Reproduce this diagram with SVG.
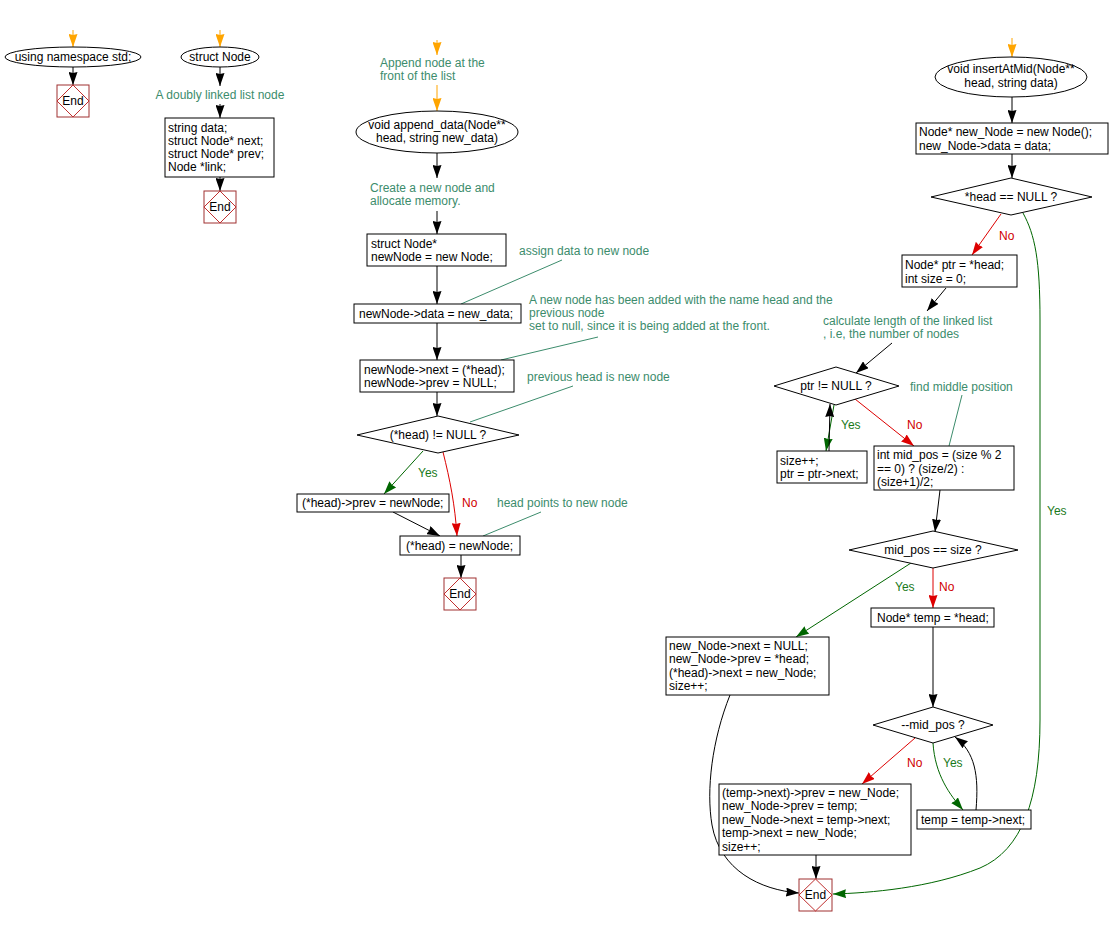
<svg xmlns="http://www.w3.org/2000/svg" width="1110" height="926" viewBox="0 0 1110 926">
<style>
text{font-family:"Liberation Sans",Arial,sans-serif;font-size:12px;fill:#000}
.c{fill:#3c8c6c}
.m{text-anchor:middle}
.y{fill:#1a7a1a}
.n{fill:#d00000}
.box{fill:#fff;stroke:#000;stroke-width:1}
.end{fill:#fff;stroke:#a03030;stroke-width:1}
.endd{fill:none;stroke:#c03030;stroke-width:1}
.k{fill:none;stroke:#000;stroke-width:1}
.o{fill:none;stroke:#ffa500;stroke-width:1}
.g{fill:none;stroke:#006600;stroke-width:1}
.r{fill:none;stroke:#dd0000;stroke-width:1}
.l{fill:none;stroke:#3c8c6c;stroke-width:1}
</style>
<defs>
<marker id="ak" viewBox="0 0 13 9" refX="13" refY="4.5" markerWidth="13" markerHeight="9" orient="auto" markerUnits="userSpaceOnUse"><path d="M0,0 L13,4.5 L0,9 L1,4.5 Z" fill="#000"/></marker>
<marker id="ao" viewBox="0 0 13 9" refX="13" refY="4.5" markerWidth="13" markerHeight="9" orient="auto" markerUnits="userSpaceOnUse"><path d="M0,0 L13,4.5 L0,9 L1,4.5 Z" fill="#ffa500"/></marker>
<marker id="ag" viewBox="0 0 13 9" refX="13" refY="4.5" markerWidth="13" markerHeight="9" orient="auto" markerUnits="userSpaceOnUse"><path d="M0,0 L13,4.5 L0,9 L1,4.5 Z" fill="#006600"/></marker>
<marker id="ar" viewBox="0 0 13 9" refX="13" refY="4.5" markerWidth="13" markerHeight="9" orient="auto" markerUnits="userSpaceOnUse"><path d="M0,0 L13,4.5 L0,9 L1,4.5 Z" fill="#dd0000"/></marker>
</defs>

<g id="connectors">
<line class="o" x1="73" y1="30" x2="73" y2="47" marker-end="url(#ao)"/>
<line class="k" x1="73" y1="67" x2="73" y2="85" marker-end="url(#ak)"/>
<line class="o" x1="220" y1="30" x2="220" y2="47" marker-end="url(#ao)"/>
<line class="k" x1="220" y1="67" x2="220" y2="86" marker-end="url(#ak)"/>
<line class="k" x1="220" y1="104" x2="220" y2="118" marker-end="url(#ak)"/>
<line class="k" x1="220" y1="177" x2="220" y2="191" marker-end="url(#ak)"/>
<line class="o" x1="437" y1="40" x2="437" y2="55" marker-end="url(#ao)"/>
<line class="o" x1="437" y1="85" x2="437" y2="111" marker-end="url(#ao)"/>
<line class="k" x1="437" y1="153" x2="437" y2="178" marker-end="url(#ak)"/>
<line class="k" x1="437" y1="211" x2="437" y2="234" marker-end="url(#ak)"/>
<line class="k" x1="437" y1="266" x2="437" y2="304" marker-end="url(#ak)"/>
<line class="k" x1="437" y1="323" x2="437" y2="360" marker-end="url(#ak)"/>
<line class="k" x1="437" y1="392" x2="437" y2="416" marker-end="url(#ak)"/>
<line class="g" x1="423" y1="451" x2="384" y2="494" marker-end="url(#ag)"/>
<path class="r" d="M443,452 C450,480 455,505 457,536" marker-end="url(#ar)"/>
<line class="k" x1="393" y1="512" x2="440" y2="536" marker-end="url(#ak)"/>
<line class="k" x1="461" y1="555" x2="461" y2="578" marker-end="url(#ak)"/>
<line class="l" x1="562" y1="260" x2="461" y2="304"/>
<line class="l" x1="598" y1="337" x2="501" y2="360"/>
<line class="l" x1="573" y1="386" x2="470" y2="422"/>
<line class="l" x1="541" y1="512" x2="483" y2="536"/>
<line class="o" x1="1012" y1="38" x2="1012" y2="57" marker-end="url(#ao)"/>
<line class="k" x1="1012" y1="97" x2="1012" y2="123" marker-end="url(#ak)"/>
<line class="k" x1="1012" y1="154" x2="1012" y2="178" marker-end="url(#ak)"/>
<line class="r" x1="1001" y1="214" x2="972" y2="255" marker-end="url(#ar)"/>
<path class="g" d="M1023,213 C1035,235 1040,260 1040,320 L1040,720 C1040,800 1022,850 980,868 C930,888 870,893 833,894" marker-end="url(#ag)"/>
<line class="k" x1="946" y1="288" x2="927" y2="311" marker-end="url(#ak)"/>
<line class="k" x1="892" y1="343" x2="856" y2="373" marker-end="url(#ak)"/>
<line class="l" x1="962" y1="395" x2="949" y2="446"/>
<line class="g" x1="834" y1="405" x2="826" y2="451" marker-end="url(#ag)"/>
<line class="k" x1="829" y1="451" x2="830" y2="404" marker-end="url(#ak)"/>
<line class="r" x1="855" y1="399" x2="914" y2="446" marker-end="url(#ar)"/>
<line class="k" x1="940" y1="490" x2="935" y2="532" marker-end="url(#ak)"/>
<line class="g" x1="911" y1="563" x2="796" y2="637" marker-end="url(#ag)"/>
<line class="r" x1="933" y1="568" x2="933" y2="608" marker-end="url(#ar)"/>
<line class="k" x1="933" y1="627" x2="933" y2="707" marker-end="url(#ak)"/>
<line class="r" x1="915" y1="738" x2="862" y2="784" marker-end="url(#ar)"/>
<path class="g" d="M933,743 C935,775 950,795 963,810" marker-end="url(#ag)"/>
<path class="k" d="M976,810 C979,775 975,752 955,737" marker-end="url(#ak)"/>
<line class="k" x1="816" y1="855" x2="816" y2="879" marker-end="url(#ak)"/>
<path class="k" d="M730,695 C712,740 706,790 712,825 C720,870 760,890 799,893" marker-end="url(#ak)"/>
</g>

<g id="start_ns">
<ellipse class="box" cx="73" cy="57" rx="68" ry="10"/>
<text class="m" x="73" y="61">using namespace std;</text>
</g>
<g id="end1">
<rect class="end" x="57" y="85" width="32" height="32"/>
<path class="endd" d="M73,85 L89,101 L73,117 L57,101 Z"/>
<text class="m" x="73" y="105">End</text>
</g>

<g id="start_struct">
<ellipse class="box" cx="220" cy="57" rx="39" ry="10"/>
<text class="m" x="220" y="61">struct Node</text>
</g>
<g id="cmt_dll"><text class="c m" x="220" y="99">A doubly linked list node</text></g>
<g id="struct_body">
<rect class="box" x="165" y="118" width="109" height="59"/>
<text x="168" y="132">string data;</text>
<text x="168" y="145">struct Node* next;</text>
<text x="168" y="158">struct Node* prev;</text>
<text x="168" y="171">Node *link;</text>
</g>
<g id="end2">
<rect class="end" x="204" y="191" width="32" height="32"/>
<path class="endd" d="M220,191 L236,207 L220,223 L204,207 Z"/>
<text class="m" x="220" y="211">End</text>
</g>

<g id="cmt_append">
<text class="c" x="380" y="67">Append node at the</text>
<text class="c" x="380" y="80">front of the list</text>
</g>
<g id="start_append">
<ellipse class="box" cx="437" cy="132" rx="81" ry="21"/>
<text class="m" x="437" y="129">void append_data(Node**</text>
<text class="m" x="437" y="142">head, string new_data)</text>
</g>
<g id="cmt_create">
<text class="c" x="370" y="192">Create a new node and</text>
<text class="c" x="370" y="205">allocate memory.</text>
</g>
<g id="new_node">
<rect class="box" x="367" y="234" width="139" height="32"/>
<text x="371" y="248">struct Node*</text>
<text x="371" y="261">newNode = new Node;</text>
</g>
<g id="cmt_assign"><text class="c" x="519" y="255">assign data to new node</text></g>
<g id="assign_data">
<rect class="box" x="354" y="304" width="167" height="19"/>
<text x="359" y="318">newNode-&gt;data = new_data;</text>
</g>
<g id="cmt_added">
<text class="c" x="529" y="304">A new node has been added with the name head and the</text>
<text class="c" x="529" y="317">previous node</text>
<text class="c" x="529" y="330">set to null, since it is being added at the front.</text>
</g>
<g id="set_links">
<rect class="box" x="360" y="360" width="154" height="32"/>
<text x="364" y="374">newNode-&gt;next = (*head);</text>
<text x="364" y="387">newNode-&gt;prev = NULL;</text>
</g>
<g id="cmt_prevhead"><text class="c" x="527" y="381">previous head is new node</text></g>
<g id="dec_head">
<polygon class="box" points="357,435 438,416 519,435 438,453"/>
<text class="m" x="438" y="439">(*head) != NULL ?</text>
</g>
<text class="y" x="418" y="477">Yes</text>
<text class="n" x="462" y="507">No</text>
<g id="head_prev">
<rect class="box" x="297" y="494" width="152" height="18"/>
<text x="302" y="507">(*head)-&gt;prev = newNode;</text>
</g>
<g id="cmt_headpoints"><text class="c" x="497" y="507">head points to new node</text></g>
<g id="head_assign">
<rect class="box" x="400" y="536" width="120" height="19"/>
<text x="406" y="550">(*head) = newNode;</text>
</g>
<g id="end3">
<rect class="end" x="444" y="578" width="32" height="32"/>
<path class="endd" d="M460,578 L476,594 L460,610 L444,594 Z"/>
<text class="m" x="460" y="598">End</text>
</g>

<g id="start_insert">
<ellipse class="box" cx="1011" cy="77" rx="76" ry="20"/>
<text class="m" x="1011" y="73">void insertAtMid(Node**</text>
<text class="m" x="1011" y="87">head, string data)</text>
</g>
<g id="create_node">
<rect class="box" x="916" y="123" width="192" height="31"/>
<text x="919" y="136">Node* new_Node = new Node();</text>
<text x="919" y="150">new_Node-&gt;data = data;</text>
</g>
<g id="dec_null">
<polygon class="box" points="931,197 1011,178 1092,197 1011,215"/>
<text class="m" x="1011" y="201">*head == NULL ?</text>
</g>
<text class="n" x="999" y="240">No</text>
<text class="y" x="1047" y="515">Yes</text>
<g id="ptr_init">
<rect class="box" x="902" y="255" width="115" height="32"/>
<text x="905" y="269">Node* ptr = *head;</text>
<text x="905" y="283">int size = 0;</text>
</g>
<g id="cmt_calc">
<text class="c" x="823" y="325">calculate length of the linked list</text>
<text class="c" x="823" y="338">, i.e, the number of nodes</text>
</g>
<g id="dec_ptr">
<polygon class="box" points="774,386 836,367 899,386 836,405"/>
<text class="m" x="836" y="390">ptr != NULL ?</text>
</g>
<g id="cmt_mid"><text class="c" x="910" y="391">find middle position</text></g>
<text class="y" x="841" y="429">Yes</text>
<text class="n" x="907" y="429">No</text>
<g id="size_inc">
<rect class="box" x="777" y="451" width="90" height="32"/>
<text x="780" y="465">size++;</text>
<text x="780" y="478">ptr = ptr-&gt;next;</text>
</g>
<g id="mid_calc">
<rect class="box" x="874" y="446" width="140" height="44"/>
<text x="877" y="459">int mid_pos = (size % 2</text>
<text x="877" y="473">== 0) ? (size/2) :</text>
<text x="877" y="486">(size+1)/2;</text>
</g>
<g id="dec_mid">
<polygon class="box" points="849,550 933,531 1018,550 933,568"/>
<text class="m" x="933" y="554">mid_pos == size ?</text>
</g>
<text class="y" x="895" y="591">Yes</text>
<text class="n" x="939" y="591">No</text>
<g id="append_end">
<rect class="box" x="666" y="637" width="163" height="58"/>
<text x="669" y="650">new_Node-&gt;next = NULL;</text>
<text x="669" y="663">new_Node-&gt;prev = *head;</text>
<text x="669" y="677">(*head)-&gt;next = new_Node;</text>
<text x="669" y="690">size++;</text>
</g>
<g id="temp_init">
<rect class="box" x="871" y="608" width="123" height="19"/>
<text x="877" y="622">Node* temp = *head;</text>
</g>
<g id="dec_dec">
<polygon class="box" points="873,725 933,707 993,725 933,743"/>
<text class="m" x="933" y="729">--mid_pos ?</text>
</g>
<text class="n" x="907" y="767">No</text>
<text class="y" x="943" y="767">Yes</text>
<g id="insert_mid">
<rect class="box" x="719" y="784" width="192" height="71"/>
<text x="722" y="797">(temp-&gt;next)-&gt;prev = new_Node;</text>
<text x="722" y="810">new_Node-&gt;prev = temp;</text>
<text x="722" y="824">new_Node-&gt;next = temp-&gt;next;</text>
<text x="722" y="837">temp-&gt;next = new_Node;</text>
<text x="722" y="851">size++;</text>
</g>
<g id="temp_next">
<rect class="box" x="917" y="810" width="114" height="19"/>
<text x="921" y="824">temp = temp-&gt;next;</text>
</g>
<g id="end4">
<rect class="end" x="799" y="879" width="33" height="32"/>
<path class="endd" d="M815.5,879 L832,895 L815.5,911 L799,895 Z"/>
<text class="m" x="815.5" y="899">End</text>
</g>
</svg>
